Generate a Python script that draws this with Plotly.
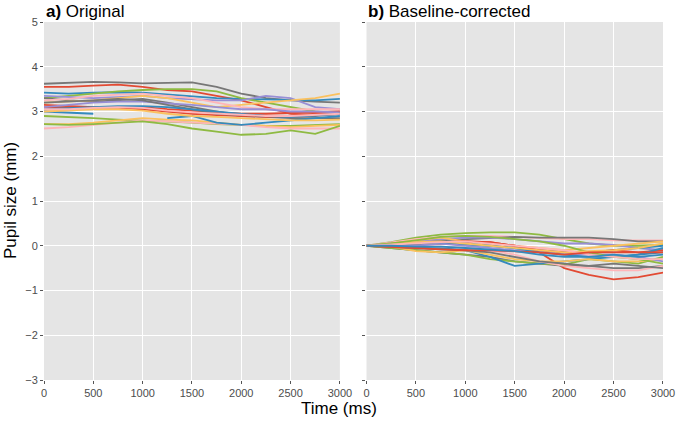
import plotly.graph_objects as go

time_ms = [0, 250, 500, 750, 1000, 1250, 1500, 1750, 2000, 2250, 2500, 2750, 3000]

RED, BLUE, PURPLE, GRAY, YELLOW, GREEN, PINK = ("#E24A33", "#348ABD", "#988ED5", "#777777",
                                                "#FBC15E", "#8EBA42", "#FFB5B8")

orig_colors = [GRAY, RED, BLUE, GREEN, PURPLE, GRAY, YELLOW, PINK, RED, BLUE, GREEN,
               YELLOW, PINK, GREEN, BLUE, RED, PURPLE, GRAY, BLUE, YELLOW, PINK]
orig_values = [
    [3.62, 3.64, 3.66, 3.65, 3.63, 3.64, 3.65, 3.55, 3.40, 3.30, 3.25, 3.22, 3.20],
    [3.55, 3.55, 3.58, 3.60, 3.55, 3.48, 3.45, 3.35, 3.25, 3.10, 2.95, 2.92, 2.95],
    [3.42, 3.40, 3.42, 3.43, 3.42, 3.38, 3.35, 3.30, 3.28, 3.27, 3.27, 3.25, 3.28],
    [3.30, 3.35, 3.40, 3.45, 3.48, 3.50, 3.50, 3.45, 3.30, 3.20, 3.10, 3.00, 2.95],
    [3.35, 3.33, 3.30, 3.32, 3.35, 3.30, 3.28, 3.25, 3.25, 3.35, 3.30, 3.10, 3.05],
    [3.30, 3.25, 3.22, 3.25, 3.28, 3.20, 3.10, 3.00, 2.90, 2.88, 2.85, 2.85, 2.85],
    [3.20, 3.22, 3.25, 3.30, 3.35, 3.30, 3.20, 3.10, 3.15, 3.20, 3.25, 3.30, 3.40],
    [3.25, 3.28, 3.35, 3.38, 3.40, 3.35, 3.30, 3.20, 3.10, 3.05, 3.05, 3.05, 3.05],
    [3.10, 3.10, 3.08, 3.10, 3.10, 3.05, 3.02, 2.98, 2.95, 2.95, 2.97, 2.98, 3.00],
    [3.00, 2.98, 2.95, None, None, None, None, None, None, None, None, None, None],
    [2.90, 2.88, 2.85, 2.82, 2.80, 2.78, 2.75, 2.72, 2.70, 2.68, 2.68, 2.70, 2.72],
    [2.72, 2.72, 2.75, 2.80, 2.85, 2.82, 2.80, 2.75, 2.70, 2.68, 2.65, 2.68, 2.70],
    [2.62, 2.65, 2.70, 2.75, 2.80, 2.78, 2.75, 2.72, 2.70, 2.65, 2.62, 2.62, 2.62],
    [2.72, 2.70, 2.72, 2.75, 2.78, 2.72, 2.62, 2.55, 2.48, 2.50, 2.58, 2.50, 2.68],
    [None, None, None, None, None, 2.85, 2.90, 2.75, 2.70, 2.75, 2.80, 2.85, 2.90],
    [3.15, 3.12, 3.10, 3.08, 3.05, 3.00, 2.95, 2.92, 2.90, 2.88, 2.90, 2.95, 2.98],
    [3.10, 3.15, 3.20, 3.22, 3.22, 3.18, 3.15, 3.10, 3.05, 3.05, 3.00, 3.00, 2.98],
    [3.20, 3.22, 3.25, 3.28, 3.25, 3.15, 3.05, 2.95, 2.92, 2.90, 2.88, 2.90, 2.95],
    [3.05, 3.08, 3.10, 3.12, 3.12, 3.10, 3.05, 3.00, 2.95, 2.90, 2.88, 2.92, 2.95],
    [3.00, 3.02, 3.05, 3.05, 3.02, 2.95, 2.90, 2.88, 2.85, 2.82, 2.80, 2.80, 2.82],
    [3.05, 3.05, 3.08, 3.10, 3.08, 3.02, 2.98, 2.95, 2.92, 2.90, 2.90, 2.92, 2.95],
]

corr_colors = [GREEN, PINK, GRAY, PURPLE, YELLOW, BLUE, RED, GRAY, GREEN, BLUE, YELLOW,
               PINK, RED, PURPLE, GRAY, BLUE, GREEN, YELLOW, PINK, RED, BLUE]
corr_values = [
    [0, 0.08, 0.18, 0.25, 0.28, 0.30, 0.30, 0.25, 0.15, 0.05, 0.00, 0.00, 0.02],
    [0, 0.07, 0.15, 0.20, 0.22, 0.22, 0.20, 0.18, 0.15, 0.15, 0.12, 0.12, 0.12],
    [0, 0.05, 0.10, 0.12, 0.15, 0.18, 0.20, 0.18, 0.18, 0.18, 0.15, 0.10, 0.10],
    [0, 0.05, 0.10, 0.15, 0.18, 0.18, 0.15, 0.10, 0.05, 0.05, 0.02, -0.05, -0.10],
    [0, 0.05, 0.12, 0.18, 0.10, 0.05, 0.00, -0.05, -0.10, -0.05, 0.00, 0.05, 0.10],
    [0, 0.02, 0.05, 0.05, 0.02, 0.00, -0.05, -0.10, -0.15, -0.15, -0.10, -0.05, 0.00],
    [0, 0.02, 0.05, 0.08, 0.10, 0.08, 0.00, -0.15, -0.50, -0.65, -0.75, -0.70, -0.60],
    [0, -0.05, -0.10, -0.15, -0.20, -0.25, -0.35, -0.40, -0.45, -0.45, -0.50, -0.50, -0.45],
    [0, -0.05, -0.10, -0.15, -0.20, -0.30, -0.35, -0.40, -0.42, -0.30, -0.35, -0.40, -0.25],
    [0, 0.00, -0.02, -0.05, -0.10, -0.25, -0.45, -0.40, -0.35, -0.30, -0.25, -0.20, -0.15],
    [0, -0.02, -0.12, -0.15, -0.10, -0.20, -0.30, -0.35, -0.35, -0.30, -0.35, -0.35, -0.30],
    [0, 0.00, 0.00, -0.02, -0.05, -0.10, -0.20, -0.35, -0.45, -0.50, -0.55, -0.55, -0.45],
    [0, 0.02, 0.05, 0.05, 0.10, 0.08, 0.00, -0.10, -0.15, -0.15, -0.10, -0.15, -0.10],
    [0, 0.00, 0.00, 0.05, 0.00, -0.05, -0.10, -0.15, -0.20, -0.20, -0.20, -0.25, -0.35],
    [0, -0.02, -0.05, -0.08, -0.10, -0.15, -0.25, -0.35, -0.40, -0.45, -0.40, -0.45, -0.50],
    [0, 0.02, 0.05, 0.08, 0.05, 0.00, -0.05, -0.15, -0.20, -0.25, -0.25, -0.20, -0.05],
    [0, 0.05, 0.12, 0.20, 0.22, 0.20, 0.15, 0.10, 0.00, -0.15, -0.25, -0.30, -0.40],
    [0, 0.02, 0.08, 0.10, 0.05, 0.00, -0.05, -0.10, -0.15, -0.12, -0.10, -0.05, 0.05],
    [0, 0.03, 0.05, 0.08, 0.10, 0.05, 0.00, -0.05, -0.10, -0.20, -0.25, -0.30, -0.30],
    [0, -0.02, -0.05, -0.08, -0.10, -0.10, -0.12, -0.15, -0.20, -0.15, -0.15, -0.15, -0.15],
    [0, 0.00, -0.02, -0.02, -0.05, -0.08, -0.12, -0.20, -0.25, -0.25, -0.20, -0.25, -0.20],
]

x_ticks = [0, 500, 1000, 1500, 2000, 2500, 3000]
y_ticks = [-3, -2, -1, 0, 1, 2, 3, 4, 5]
y_tick_text = ["\u22123", "\u22122", "\u22121", "0", "1", "2", "3", "4", "5"]

fig = go.Figure()
for vals, col in zip(orig_values, orig_colors):
    fig.add_trace(go.Scatter(x=time_ms, y=vals, mode="lines", xaxis="x", yaxis="y",
                             line=dict(color=col, width=1.8), connectgaps=False,
                             showlegend=False, hoverinfo="skip"))
for vals, col in zip(corr_values, corr_colors):
    fig.add_trace(go.Scatter(x=time_ms, y=vals, mode="lines", xaxis="x2", yaxis="y2",
                             line=dict(color=col, width=1.8),
                             showlegend=False, hoverinfo="skip"))

axis_common = dict(showgrid=True, gridcolor="white", gridwidth=1, zeroline=False,
                   ticks="outside", ticklen=3, tickcolor="#555555", automargin=False,
                   tickfont=dict(size=11, color="#4D4D4D"), showline=False)

fig.update_layout(
    template="none",
    width=677, height=422,
    margin=dict(l=44, r=14, t=22, b=42, autoexpand=False),
    paper_bgcolor="white", plot_bgcolor="#E5E5E5",
    font=dict(family="Liberation Sans, Arial, sans-serif", color="black"),
    xaxis=dict(domain=[0, 0.478], range=[0, 3000], tickvals=x_ticks, anchor="y", **axis_common),
    yaxis=dict(domain=[0, 1], range=[-3, 5], tickvals=y_ticks, ticktext=y_tick_text,
               anchor="x", **axis_common),
    xaxis2=dict(domain=[0.521, 1], range=[0, 3000], tickvals=x_ticks, anchor="y2", **axis_common),
    yaxis2=dict(domain=[0, 1], range=[-3, 5], tickvals=y_ticks, showticklabels=False,
                anchor="x2", **axis_common),
    annotations=[
        dict(text="<b>a)</b> Original", xref="paper", yref="paper", x=0, y=1.0, yshift=-1,
             xanchor="left", yanchor="bottom", showarrow=False, font=dict(size=17)),
        dict(text="<b>b)</b> Baseline-corrected", xref="paper", yref="paper", x=0.521, y=1.0,
             yshift=-1, xanchor="left", yanchor="bottom", showarrow=False, font=dict(size=17)),
        dict(text="Time (ms)", xref="paper", yref="paper", x=0.476, y=0, yshift=-17,
             xanchor="center", yanchor="top", showarrow=False, font=dict(size=17)),
        dict(text="Pupil size (mm)", xref="paper", yref="paper", x=0, xshift=-34, y=0.5,
             xanchor="center", yanchor="middle", textangle=-90, showarrow=False,
             font=dict(size=17)),
    ],
)

# Remove the browser's default 8px body margin so the figure fills the window exactly.
fig.write_html("out.html", config={"displayModeBar": False},
               post_script="document.body.style.margin='0';document.body.style.overflow='hidden';")
